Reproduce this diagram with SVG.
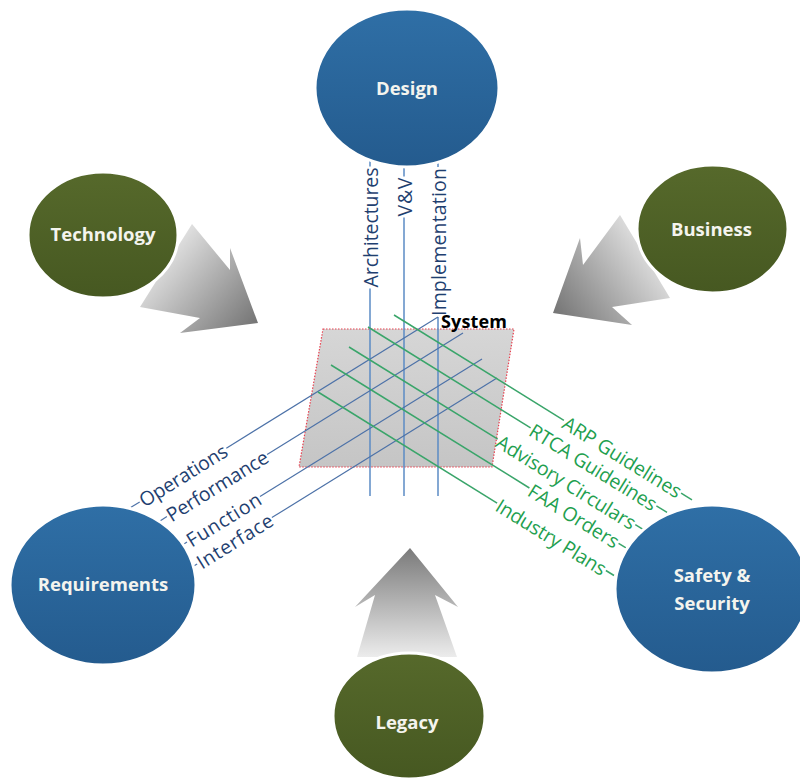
<svg xmlns="http://www.w3.org/2000/svg" width="800" height="779" viewBox="0 0 800 779">
<style>
.blueNode{fill:url(#gBlue);stroke:#ffffff;stroke-width:3}
.greenNode{fill:url(#gOlive);stroke:#ffffff;stroke-width:3}
.nodeText{font-family:"Open Sans","Liberation Sans",sans-serif;font-weight:bold;font-size:18.5px;fill:#f4f4ee;text-anchor:middle}
.vline{stroke:#5b8bc4;stroke-width:1.5;fill:none}
.bline{stroke:#4d72a8;stroke-width:1.2;fill:none}
.gline{stroke:#3aa56a;stroke-width:1.5;fill:none}
.blab{font-family:"Open Sans","Liberation Sans",sans-serif;font-size:19.5px;fill:#1f3f70;text-anchor:middle;dominant-baseline:central}
.glab{font-family:"Open Sans","Liberation Sans",sans-serif;font-size:19.5px;fill:#1fa04f;text-anchor:middle;dominant-baseline:central}
</style>
<defs>
<linearGradient id="gBlue" x1="0" y1="0" x2="0" y2="1">
<stop offset="0" stop-color="#2f6fa6"/><stop offset="1" stop-color="#245b8e"/>
</linearGradient>
<linearGradient id="gOlive" x1="0" y1="0" x2="0" y2="1">
<stop offset="0" stop-color="#56692b"/><stop offset="1" stop-color="#465821"/>
</linearGradient>
<linearGradient id="gTech" gradientUnits="userSpaceOnUse" x1="160" y1="240" x2="255" y2="322">
<stop offset="0" stop-color="#ececec"/><stop offset="1" stop-color="#777777"/>
</linearGradient>
<linearGradient id="gBus" gradientUnits="userSpaceOnUse" x1="660" y1="240" x2="556" y2="312">
<stop offset="0" stop-color="#ececec"/><stop offset="1" stop-color="#777777"/>
</linearGradient>
<linearGradient id="gLeg" gradientUnits="userSpaceOnUse" x1="410" y1="657" x2="410" y2="548">
<stop offset="0" stop-color="#ececec"/><stop offset="1" stop-color="#7a7a7a"/>
</linearGradient>
<linearGradient id="gSys" x1="0" y1="0" x2="0" y2="1">
<stop offset="0" stop-color="#d6d6d6"/><stop offset="1" stop-color="#c5c5c5"/>
</linearGradient>
</defs>
<rect width="800" height="779" fill="#ffffff"/>

<g id="arrows">
<polygon id="arrow-technology" points="192,224 230,270 230,248 258,323 180,333 200,318 140,307" fill="url(#gTech)"/>
<polygon id="arrow-business" points="620,215 583,265 580,238 553,313 632,325 612,307 670,298" fill="url(#gBus)"/>
<polygon id="arrow-legacy" points="410,548 458,607 435,595 457,657 357,657 375,595 355,607" fill="url(#gLeg)"/>
</g>

<g id="system">
<polygon points="323,329 514,329 492,467 299,467" fill="url(#gSys)" stroke="#e8404f" stroke-width="1.2" stroke-dasharray="1.5 1.5"/>
<text x="441" y="328" font-family="Open Sans, Liberation Sans, sans-serif" font-weight="bold" font-size="18px" fill="#000000" textLength="66">System</text>
</g>

<g id="connectors">
<line class="vline" x1="370" y1="160" x2="370" y2="166.5"/>
<line class="vline" x1="370" y1="288.5" x2="370" y2="496"/>
<line class="vline" x1="404" y1="166" x2="404" y2="176.5"/>
<line class="vline" x1="404" y1="217.5" x2="404" y2="496"/>
<line class="vline" x1="438" y1="162" x2="438" y2="167"/>
<line class="vline" x1="438" y1="317" x2="438" y2="496"/>
<text class="blab" transform="translate(370,227.5) rotate(-90)" textLength="120">Architectures</text>
<text class="blab" transform="translate(404,197) rotate(-90)" textLength="39">V&amp;V</text>
<text class="blab" transform="translate(438,242) rotate(-90)" textLength="148">Implementation</text>

<line class="bline" x1="131" y1="507.3" x2="139.7" y2="502"/>
<line class="bline" x1="226.3" y1="448.2" x2="438" y2="317"/>
<line class="bline" x1="160" y1="520.9" x2="166.9" y2="516.6"/>
<line class="bline" x1="267.1" y1="454.4" x2="463" y2="333"/>
<line class="bline" x1="182" y1="545.3" x2="187" y2="542"/>
<line class="bline" x1="260" y1="496.6" x2="482" y2="359"/>
<line class="bline" x1="193" y1="566.5" x2="197.1" y2="564"/>
<line class="bline" x1="271.9" y1="517.6" x2="497" y2="378"/>
<text class="blab" transform="translate(183,475.1) rotate(-31.8)" textLength="100">Operations</text>
<text class="blab" transform="translate(217,485.5) rotate(-31.8)" textLength="116">Performance</text>
<text class="blab" transform="translate(223.5,519.3) rotate(-31.8)" textLength="84">Function</text>
<text class="blab" transform="translate(234.5,540.8) rotate(-31.8)" textLength="86">Interface</text>

<line class="gline" x1="394" y1="315" x2="563.9" y2="420.3"/>
<line class="gline" x1="681.1" y1="493.1" x2="692" y2="499.8"/>
<line class="gline" x1="368" y1="327" x2="530.6" y2="427.8"/>
<line class="gline" x1="656.4" y1="505.8" x2="667" y2="512.4"/>
<line class="gline" x1="349" y1="347" x2="497.7" y2="439.2"/>
<line class="gline" x1="635.3" y1="524.6" x2="645" y2="530.6"/>
<line class="gline" x1="331" y1="365" x2="529.4" y2="488"/>
<line class="gline" x1="618.6" y1="543.4" x2="626" y2="547.8"/>
<line class="gline" x1="318" y1="392" x2="497.1" y2="503.1"/>
<line class="gline" x1="605.9" y1="570.5" x2="614" y2="575.5"/>
<text class="glab" transform="translate(622.5,456.7) rotate(31.8)" textLength="136">ARP Guidelines</text>
<text class="glab" transform="translate(593.5,466.8) rotate(31.8)" textLength="146">RTCA Guidelines</text>
<text class="glab" transform="translate(566.5,481.9) rotate(31.8)" textLength="160">Advisory Circulars</text>
<text class="glab" transform="translate(574,515.7) rotate(31.8)" textLength="103">FAA Orders</text>
<text class="glab" transform="translate(551.5,536.8) rotate(31.8)" textLength="126">Industry Plans</text>
</g>

<g id="design">
<ellipse class="blueNode" cx="407" cy="88" rx="92" ry="79"/>
<text class="nodeText" x="407" y="95">Design</text>
</g>
<g id="technology">
<ellipse class="greenNode" cx="103" cy="235" rx="75" ry="63"/>
<text class="nodeText" x="103" y="241">Technology</text>
</g>
<g id="business">
<ellipse class="greenNode" cx="712.5" cy="229" rx="75.5" ry="64"/>
<text class="nodeText" x="711.5" y="236">Business</text>
</g>
<g id="requirements">
<ellipse class="blueNode" cx="103" cy="585" rx="93" ry="80"/>
<text class="nodeText" x="103" y="591">Requirements</text>
</g>
<g id="safety-security">
<ellipse class="blueNode" cx="712" cy="589" rx="97" ry="84"/>
<text class="nodeText" x="712" y="582">Safety &amp;</text>
<text class="nodeText" x="712" y="610">Security</text>
</g>
<g id="legacy">
<ellipse class="greenNode" cx="409" cy="716" rx="76" ry="63"/>
<text class="nodeText" x="407" y="729">Legacy</text>
</g>
</svg>
